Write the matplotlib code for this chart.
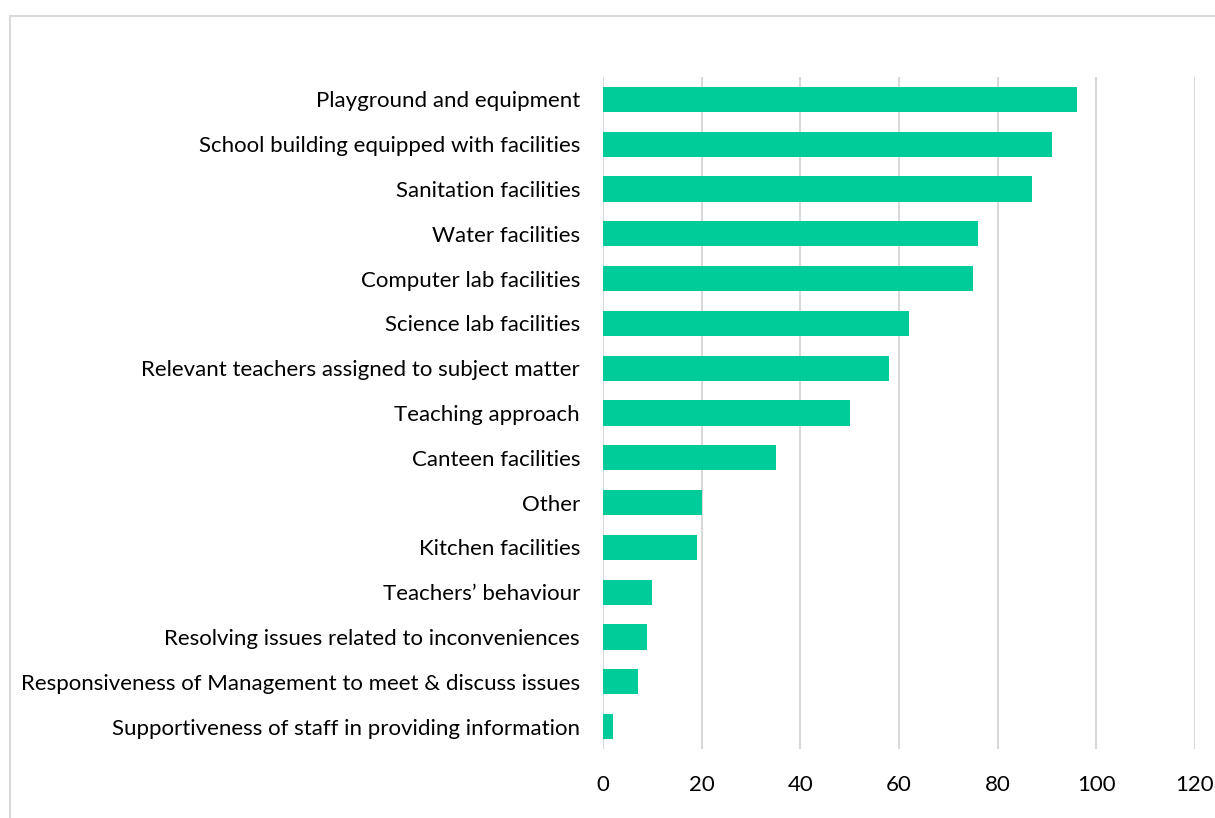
import matplotlib.pyplot as plt
from matplotlib.patches import Rectangle

categories = [
    'Playground and equipment',
    'School building equipped with facilities',
    'Sanitation facilities',
    'Water facilities',
    'Computer lab facilities',
    'Science lab facilities',
    'Relevant teachers assigned to subject matter',
    'Teaching approach',
    'Canteen facilities',
    'Other',
    'Kitchen facilities',
    'Teachers\u2019 behaviour',
    'Resolving issues related to inconveniences',
    'Responsiveness of Management to meet & discuss issues',
    'Supportiveness of staff in providing information',
]
values = [96, 91, 87, 76, 75, 62, 58, 50, 35, 20, 19, 10, 9, 7, 2]
xticks = [0, 20, 40, 60, 80, 100, 120]

plt.rcParams['font.family'] = ['Lato', 'DejaVu Sans']

fig = plt.figure(figsize=(12.15, 8.18), dpi=100)
ax = fig.add_axes([603 / 1215, 1 - 749 / 818, 592 / 1215, 672 / 818])

# outer chart border (only top and left edges fall inside the image)
fig.patches.append(Rectangle((10 / 1215, -0.1), 1.2, 1 - 16 / 818 + 0.1,
                             transform=fig.transFigure, fill=False,
                             edgecolor='#d9d9d9', linewidth=1.5))

ypos = range(len(categories))
ax.barh(ypos, values, height=0.56, color='#00cc99', zorder=3)
ax.set_yticks(list(ypos))
ax.set_yticklabels(categories)
ax.set_ylim(len(categories) - 0.5, -0.5)
ax.set_xlim(0, 120)
ax.set_xticks(xticks)

ax.grid(axis='x', color='#d9d9d9', linewidth=1.5, zorder=0)
for s in ax.spines.values():
    s.set_visible(False)
ax.tick_params(axis='both', length=0, labelsize=16, colors='#000000')
ax.tick_params(axis='y', pad=16.5)
ax.tick_params(axis='x', pad=19)

fig.savefig('out.png', dpi=100)
